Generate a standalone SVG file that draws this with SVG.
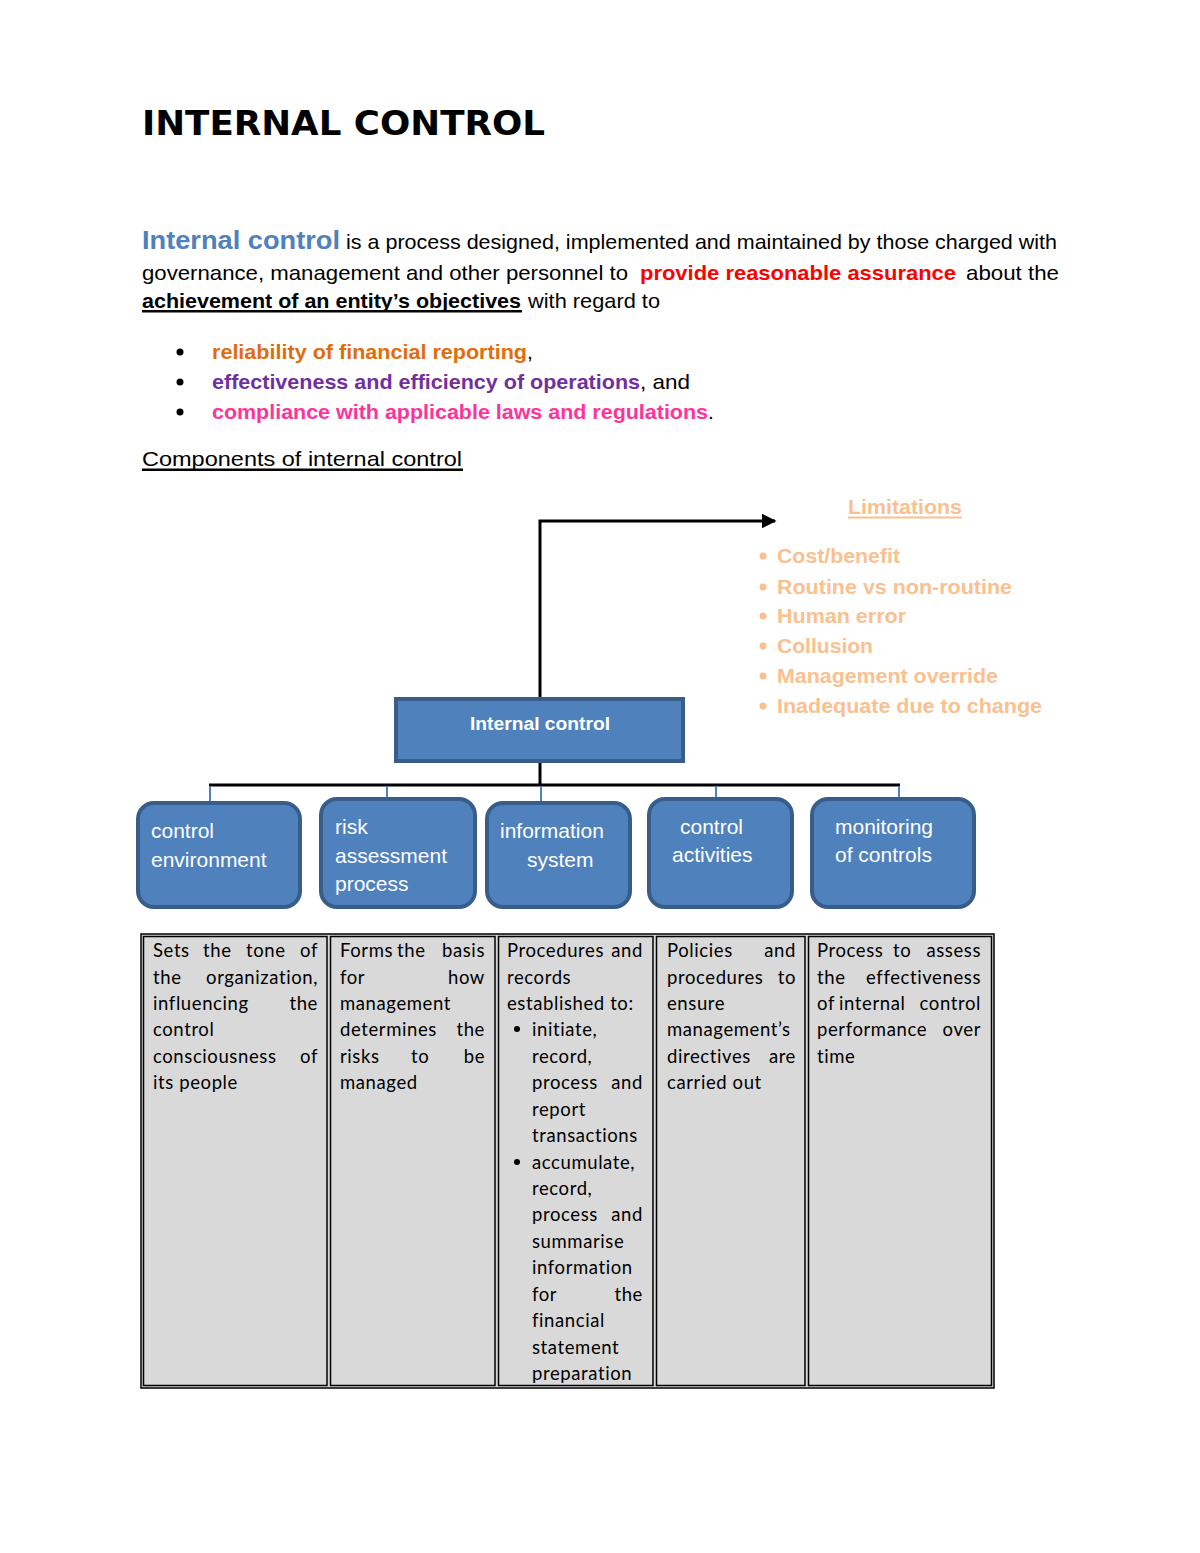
<svg xmlns="http://www.w3.org/2000/svg" width="1200" height="1553" viewBox="0 0 1200 1553">
<defs>
<style>
.a{font-family:"Liberation Sans",Arial,sans-serif;}
.b{font-family:"Liberation Sans",Arial,sans-serif;font-size:21px;}
.k{fill:#000;}
.lim{font-family:"Liberation Sans",Arial,sans-serif;font-size:21px;font-weight:bold;fill:#fac08f;}
.bx{font-family:"Liberation Sans",Arial,sans-serif;font-size:21px;fill:#fff;}
.t{font-family:Lato,"Open Sans",sans-serif;font-size:18.5px;letter-spacing:0.6px;fill:#000;}
.e{text-anchor:end;}
.node{fill:#4f81bd;stroke:#385d8a;stroke-width:4;}
.cell{fill:none;stroke:#000;stroke-width:1.5;}
</style>
<marker id="arr" viewBox="0 0 10 10" refX="9" refY="5" markerWidth="5" markerHeight="5" orient="auto" markerUnits="strokeWidth">
<path d="M0,0 L10,5 L0,10 z" fill="#000"/>
</marker>
</defs>
<rect width="1200" height="1553" fill="#fff"/>

<g id="header">
<text x="142" y="135" font-family="'DejaVu Sans',sans-serif" font-size="33" font-weight="bold" fill="#000" textLength="403" lengthAdjust="spacingAndGlyphs">INTERNAL CONTROL</text>
<text class="a" x="142" y="249" font-size="26" font-weight="bold" fill="#4f81bd" textLength="198" lengthAdjust="spacingAndGlyphs">Internal control</text>
<text class="b k" x="346" y="249" textLength="711" lengthAdjust="spacingAndGlyphs">is a process designed, implemented and maintained by those charged with</text>
<text class="b k" x="142" y="280" textLength="486" lengthAdjust="spacingAndGlyphs">governance, management and other personnel to</text>
<text class="b" x="640" y="280" font-weight="bold" fill="#ff0000" textLength="316" lengthAdjust="spacingAndGlyphs">provide reasonable assurance</text>
<text class="b k" x="966" y="280" textLength="93" lengthAdjust="spacingAndGlyphs">about the</text>
<text class="b k" x="142" y="308" font-weight="bold" textLength="379" lengthAdjust="spacingAndGlyphs">achievement of an entity’s objectives</text>
<rect x="142" y="310" width="380" height="2.5" fill="#000"/>
<text class="b k" x="528" y="308" textLength="132" lengthAdjust="spacingAndGlyphs">with regard to</text>

<circle cx="180" cy="352" r="3.5" fill="#000"/>
<circle cx="180" cy="382" r="3.5" fill="#000"/>
<circle cx="180" cy="412" r="3.5" fill="#000"/>
<text class="b" x="212" y="359" font-weight="bold" fill="#e36c0a" textLength="315" lengthAdjust="spacingAndGlyphs">reliability of financial reporting</text>
<text class="b k" x="527" y="359">,</text>
<text class="b" x="212" y="389" font-weight="bold" fill="#7030a0" textLength="428" lengthAdjust="spacingAndGlyphs">effectiveness and efficiency of operations</text>
<text class="b k" x="640" y="389" textLength="50" lengthAdjust="spacingAndGlyphs">, and</text>
<text class="b" x="212" y="419" font-weight="bold" fill="#ff3399" textLength="496" lengthAdjust="spacingAndGlyphs">compliance with applicable laws and regulations</text>
<text class="b k" x="708" y="419">.</text>

<text class="b k" x="142" y="466" textLength="320" lengthAdjust="spacingAndGlyphs">Components of internal control</text>
<rect x="142" y="468.5" width="321" height="2.5" fill="#000"/>
</g>

<g id="limitations">
<text class="lim" x="848" y="514" textLength="114" lengthAdjust="spacingAndGlyphs">Limitations</text>
<rect x="848" y="516.5" width="114" height="2" fill="#fac08f"/>
<circle cx="763" cy="556" r="3.5" fill="#fac08f"/>
<circle cx="763" cy="587" r="3.5" fill="#fac08f"/>
<circle cx="763" cy="616" r="3.5" fill="#fac08f"/>
<circle cx="763" cy="646" r="3.5" fill="#fac08f"/>
<circle cx="763" cy="676" r="3.5" fill="#fac08f"/>
<circle cx="763" cy="706" r="3.5" fill="#fac08f"/>
<text class="lim" x="777" y="563" textLength="123" lengthAdjust="spacingAndGlyphs">Cost/benefit</text>
<text class="lim" x="777" y="594" textLength="235" lengthAdjust="spacingAndGlyphs">Routine vs non-routine</text>
<text class="lim" x="777" y="623" textLength="129" lengthAdjust="spacingAndGlyphs">Human error</text>
<text class="lim" x="777" y="653" textLength="96" lengthAdjust="spacingAndGlyphs">Collusion</text>
<text class="lim" x="777" y="683" textLength="221" lengthAdjust="spacingAndGlyphs">Management override</text>
<text class="lim" x="777" y="713" textLength="265" lengthAdjust="spacingAndGlyphs">Inadequate due to change</text>
</g>

<g id="connectors">
<path d="M540,698 V521 H775" fill="none" stroke="#000" stroke-width="3" marker-end="url(#arr)"/>
<path d="M540,762 V785" fill="none" stroke="#000" stroke-width="3"/>
<path d="M209,785 H900" fill="none" stroke="#000" stroke-width="3"/>
<path d="M210,786 V802 M387,786 V798 M541,786 V802 M716,786 V798 M899,786 V798" fill="none" stroke="#4f81bd" stroke-width="2"/>
</g>

<g id="node-internal-control">
<rect class="node" x="396" y="699" width="287" height="62"/>
<text class="a" x="540" y="730" font-size="18" font-weight="bold" fill="#fff" text-anchor="middle" textLength="140" lengthAdjust="spacingAndGlyphs">Internal control</text>
</g>
<g id="node-control-environment">
<rect class="node" x="138" y="803" width="162" height="104" rx="16"/>
<text class="bx" x="151" y="838">control</text>
<text class="bx" x="151" y="867">environment</text>
</g>
<g id="node-risk-assessment">
<rect class="node" x="321" y="799" width="154" height="108" rx="16"/>
<text class="bx" x="335" y="834">risk</text>
<text class="bx" x="335" y="863">assessment</text>
<text class="bx" x="335" y="891">process</text>
</g>
<g id="node-information-system">
<rect class="node" x="487" y="803" width="143" height="104" rx="16"/>
<text class="bx" x="500" y="838">information</text>
<text class="bx" x="527" y="867">system</text>
</g>
<g id="node-control-activities">
<rect class="node" x="649" y="799" width="143" height="108" rx="16"/>
<text class="bx" x="680" y="834">control</text>
<text class="bx" x="672" y="862">activities</text>
</g>
<g id="node-monitoring">
<rect class="node" x="812" y="799" width="162" height="108" rx="16"/>
<text class="bx" x="835" y="834">monitoring</text>
<text class="bx" x="835" y="862">of controls</text>
</g>

<g id="table">
<rect x="141" y="934" width="853" height="454" fill="#d9d9d9" stroke="#000" stroke-width="1.5"/>
<rect class="cell" x="143.5" y="936.5" width="183.5" height="449"/>
<rect class="cell" x="330.5" y="936.5" width="164.5" height="449"/>
<rect class="cell" x="498.5" y="936.5" width="154.5" height="449"/>
<rect class="cell" x="656.5" y="936.5" width="148.5" height="449"/>
<rect class="cell" x="808.5" y="936.5" width="183" height="449"/>

<g id="col1">
<text class="t" x="153" y="957">Sets</text><text class="t" x="203" y="957">the</text><text class="t" x="246" y="957">tone</text><text class="t e" x="318" y="957">of</text>
<text class="t" x="153" y="983.5">the</text><text class="t e" x="318" y="983.5">organization,</text>
<text class="t" x="153" y="1010">influencing</text><text class="t e" x="318" y="1010">the</text>
<text class="t" x="153" y="1036">control</text>
<text class="t" x="153" y="1063">consciousness</text><text class="t e" x="318" y="1063">of</text>
<text class="t" x="153" y="1089">its people</text>
</g>
<g id="col2">
<text class="t" x="340" y="957">Forms</text><text class="t" x="397" y="957">the</text><text class="t e" x="485" y="957">basis</text>
<text class="t" x="340" y="983.5">for</text><text class="t e" x="485" y="983.5">how</text>
<text class="t" x="340" y="1010">management</text>
<text class="t" x="340" y="1036">determines</text><text class="t e" x="485" y="1036">the</text>
<text class="t" x="340" y="1063">risks</text><text class="t" x="411" y="1063">to</text><text class="t e" x="485" y="1063">be</text>
<text class="t" x="340" y="1089">managed</text>
</g>
<g id="col3">
<text class="t" x="507" y="957">Procedures</text><text class="t e" x="643" y="957">and</text>
<text class="t" x="507" y="983.5">records</text>
<text class="t" x="507" y="1010">established to:</text>
<circle cx="517" cy="1029" r="3" fill="#000"/>
<text class="t" x="532" y="1036">initiate,</text>
<text class="t" x="532" y="1063">record,</text>
<text class="t" x="532" y="1089">process</text><text class="t e" x="643" y="1089">and</text>
<text class="t" x="532" y="1116">report</text>
<text class="t" x="532" y="1142">transactions</text>
<circle cx="517" cy="1162" r="3" fill="#000"/>
<text class="t" x="532" y="1169">accumulate,</text>
<text class="t" x="532" y="1195">record,</text>
<text class="t" x="532" y="1221">process</text><text class="t e" x="643" y="1221">and</text>
<text class="t" x="532" y="1248">summarise</text>
<text class="t" x="532" y="1274">information</text>
<text class="t" x="532" y="1301">for</text><text class="t e" x="643" y="1301">the</text>
<text class="t" x="532" y="1327">financial</text>
<text class="t" x="532" y="1354">statement</text>
<text class="t" x="532" y="1380">preparation</text>
</g>
<g id="col4">
<text class="t" x="667" y="957">Policies</text><text class="t e" x="796" y="957">and</text>
<text class="t" x="667" y="983.5">procedures</text><text class="t e" x="796" y="983.5">to</text>
<text class="t" x="667" y="1010">ensure</text>
<text class="t" x="667" y="1036">management’s</text>
<text class="t" x="667" y="1063">directives</text><text class="t e" x="796" y="1063">are</text>
<text class="t" x="667" y="1089">carried out</text>
</g>
<g id="col5">
<text class="t" x="817" y="957">Process</text><text class="t" x="893" y="957">to</text><text class="t e" x="981" y="957">assess</text>
<text class="t" x="817" y="983.5">the</text><text class="t e" x="981" y="983.5">effectiveness</text>
<text class="t" x="817" y="1010">of</text><text class="t" x="839" y="1010">internal</text><text class="t e" x="981" y="1010">control</text>
<text class="t" x="817" y="1036">performance</text><text class="t e" x="981" y="1036">over</text>
<text class="t" x="817" y="1063">time</text>
</g>
</g>
</svg>
